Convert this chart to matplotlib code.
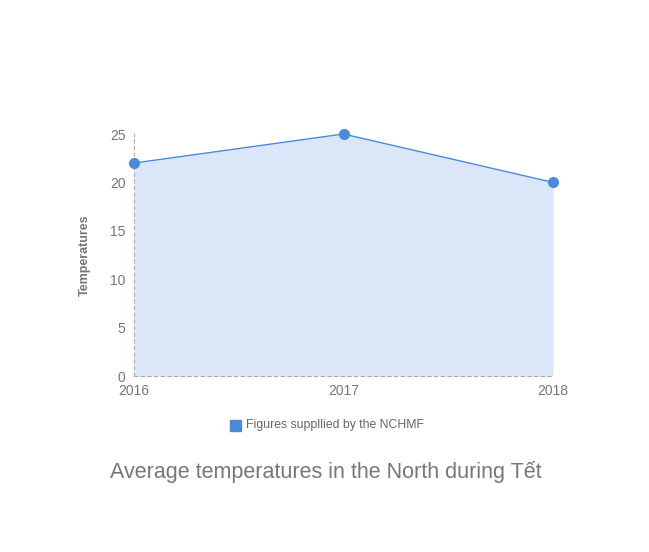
import matplotlib
matplotlib.use("Agg")
import matplotlib.pyplot as plt
from matplotlib.patches import Rectangle

years = [2016, 2017, 2018]
temps = [22, 25, 20]
yticks = [0, 5, 10, 15, 20, 25]

plt.rcParams['font.family'] = ['Liberation Sans', 'DejaVu Sans']

W, H = 649, 552
fig = plt.figure(figsize=(W / 100, H / 100), dpi=100)
ax = fig.add_axes([134 / W, (H - 376) / H, (553 - 134) / W, (376 - 134) / H])

ax.fill_between(years, temps, 0, color='#dbe7f8', lw=0)
ax.plot(years, temps, color='#4a8ad8', lw=1, marker='o', ms=7, clip_on=False, zorder=4)

ax.set_xlim(2016, 2018)
ax.set_ylim(0, 25)
ax.set_xticks(years)
ax.set_yticks(yticks)
ax.tick_params(length=0, labelsize=10, colors='#777777', pad=6)

for s in ['top', 'right']:
    ax.spines[s].set_visible(False)
for s in ['left', 'bottom']:
    ax.spines[s].set_color('#aaaaaa')
    ax.spines[s].set_linestyle((0, (3, 3)))
    ax.spines[s].set_linewidth(0.8)

ax.set_ylabel('Temperatures', fontsize=9, color='#777777', fontweight='bold', labelpad=14)

# legend
fig.patches.append(Rectangle((230 / W, (H - 431) / H), 11 / W, 11 / H,
                             transform=fig.transFigure, color='#4a8ad8', figure=fig))
fig.text(246 / W, (H - 425) / H, 'Figures suppllied by the NCHMF',
         fontsize=8.8, color='#666666', va='center', ha='left')

fig.text(326 / W, (H - 472) / H, 'Average temperatures in the North during Tết',
         fontsize=15.5, color='#777777', ha='center', va='center')

fig.savefig('out.png', dpi=100)
